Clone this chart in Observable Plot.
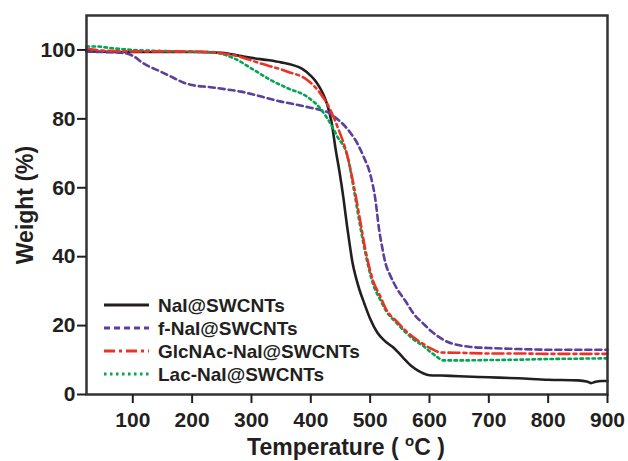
<!DOCTYPE html>
<html><head><meta charset="utf-8">
<script src="https://cdn.jsdelivr.net/npm/d3@7"></script>
<script src="https://cdn.jsdelivr.net/npm/@observablehq/plot@0.6"></script>
<style>
body{margin:0;background:#fff}
svg{font-family:"Liberation Sans",Arial,Helvetica,sans-serif;font-weight:bold}
</style>
</head><body><div id="chart"></div>
<script>
// ---- Data ----
const seriesNames = ["NaI@SWCNTs", "f-NaI@SWCNTs", "GlcNAc-NaI@SWCNTs", "Lac-NaI@SWCNTs"];
const xTicks = [100, 200, 300, 400, 500, 600, 700, 800, 900];
const yTicks = [0, 20, 40, 60, 80, 100];

const naiT = [22, 50, 100, 150, 200, 250, 280, 300, 330, 350, 370, 385, 400, 410, 420, 428, 435, 442, 448, 455, 461, 466, 470, 476, 482, 490, 500, 512, 525, 540, 555, 570, 580, 590, 600, 620, 650, 700, 750, 800, 850, 865, 872, 880, 890, 900];
const naiW = [99.6, 99.5, 99.4, 99.4, 99.4, 99.2, 98.3, 97.7, 97, 96.4, 95.6, 94.6, 92.5, 90.5, 87.5, 84, 79, 71, 65, 57, 49, 43, 38.5, 34, 30.4, 26.5, 22, 18, 15.5, 13.5, 10.8, 8.2, 7.0, 6.1, 5.6, 5.5, 5.3, 5.0, 4.7, 4.3, 4.1, 3.8, 3.3, 3.7, 3.9, 3.9];

const fT = [22, 50, 80, 100, 118, 147, 170, 186, 200, 231, 260, 282, 300, 327, 350, 371, 395, 416, 430, 445, 457, 467, 478, 489, 500, 509, 515, 520, 526, 534, 546, 560, 573, 590, 602, 615, 630, 650, 670, 700, 750, 800, 850, 900];
const fW = [99.5, 99.4, 99.2, 98.3, 96.1, 93.7, 91.8, 90.5, 89.8, 89.2, 88.5, 87.9, 87.2, 86, 85, 84.3, 83.4, 82.6, 81.8, 79.9, 78, 75.9, 73, 69, 64, 56.4, 48, 43, 38, 34.5, 30.5, 27, 23.5, 20.5, 18.5, 16.8, 15.3, 14.3, 13.8, 13.5, 13.2, 13.0, 13.0, 13.0];

const glcT = [22, 50, 100, 150, 214, 250, 270, 315, 361, 394, 416, 433, 445, 462, 472, 482, 492, 505, 517, 526, 546, 560, 573, 590, 602, 619, 650, 700, 750, 800, 850, 900];
const glcW = [100.4, 99.8, 99.6, 99.6, 99.5, 99, 98.5, 96.1, 93.7, 91.3, 87.4, 82.6, 77.7, 69, 61, 51.6, 42, 33, 28.5, 25, 21, 18.5, 16.6, 14.6, 13.4, 12.2, 12.1, 11.9, 11.9, 11.8, 11.8, 11.8];

const lacT = [22, 40, 60, 100, 150, 200, 231, 270, 304, 332, 361, 394, 416, 428, 445, 462, 472, 482, 492, 505, 517, 526, 546, 560, 573, 590, 602, 612, 624, 650, 700, 750, 800, 850, 900];
const lacW = [101, 101, 100.6, 100, 99.7, 99.5, 99.4, 97.6, 94.2, 91.3, 88.9, 86.4, 83, 80.1, 74.8, 69, 60, 50, 41, 32, 27.5, 24.5, 20.5, 18, 16, 14, 12.3, 11, 9.9, 9.9, 10, 10.1, 10.3, 10.4, 10.5];

const colors = ["#231f20", "#5b3f9e", "#ee3124", "#00a651"];
const dashes = [null, "6,4", "11,4,3,4", "2.5,3.5"];

const rows = [];
[[naiT, naiW], [fT, fW], [glcT, glcW], [lacT, lacW]].forEach(([T, W], k) => {
  T.forEach((t, i) => rows.push({series: seriesNames[k], t, w: W[i]}));
});

const drawOrder = [0, 1, 3, 2];
const plot = Plot.plot({
  width: 628, height: 461,
  marginLeft: 86, marginRight: 21, marginTop: 15, marginBottom: 67,
  x: {domain: [22, 900]},
  y: {domain: [0, 110]},
  style: {fontFamily: '"Liberation Sans", Arial, sans-serif', fontWeight: "bold", color: "#231f20", background: "#fff"},
  marks: [
    ...drawOrder.map(k => Plot.line(rows.filter(r => r.series === seriesNames[k]), {
      x: "t", y: "w", stroke: colors[k], strokeWidth: 2.6,
      strokeDasharray: dashes[k] ?? undefined, curve: "monotone-x"
    })),
    Plot.frame({stroke: "#333", strokeWidth: 2.5}),
    Plot.axisX({ticks: xTicks, tickSize: 9, tickPadding: 9, label: null, fontSize: 21, strokeWidth: 2, stroke: "#231f20"}),
    Plot.axisY({ticks: yTicks, tickSize: 9, tickPadding: 2, label: null, fontSize: 21, strokeWidth: 2, stroke: "#231f20"})
  ]
});
document.getElementById("chart").appendChild(plot);

const svg = d3.select(plot);
// Axis titles
svg.append("text")
  .attr("transform", "translate(33,205) rotate(-90)")
  .attr("text-anchor", "middle")
  .attr("font-size", 23).attr("font-weight", "bold").attr("fill", "#231f20")
  .text("Weight (%)");
const xt = svg.append("text")
  .attr("x", 346).attr("y", 455)
  .attr("text-anchor", "middle")
  .attr("font-size", 23).attr("font-weight", "bold").attr("fill", "#231f20");
xt.append("tspan").text("Temperature ( ");
xt.append("tspan").attr("font-size", 15).attr("dy", -9).text("o");
xt.append("tspan").attr("dy", 9).text("C )");

// Legend
const lg = svg.append("g").attr("text-anchor", "start");
seriesNames.forEach((name, k) => {
  const y = 305 + k * 23;
  lg.append("line").attr("x1", 104).attr("x2", 149).attr("y1", y).attr("y2", y)
    .attr("stroke", colors[k]).attr("stroke-width", 3.2)
    .attr("stroke-dasharray", dashes[k]);
  lg.append("text").attr("x", 158).attr("y", y).attr("dy", "0.36em")
    .attr("text-anchor", "start")
    .attr("font-size", 19).attr("font-weight", "bold").attr("fill", "#231f20")
    .text(name);
});
</script>
</body></html>
